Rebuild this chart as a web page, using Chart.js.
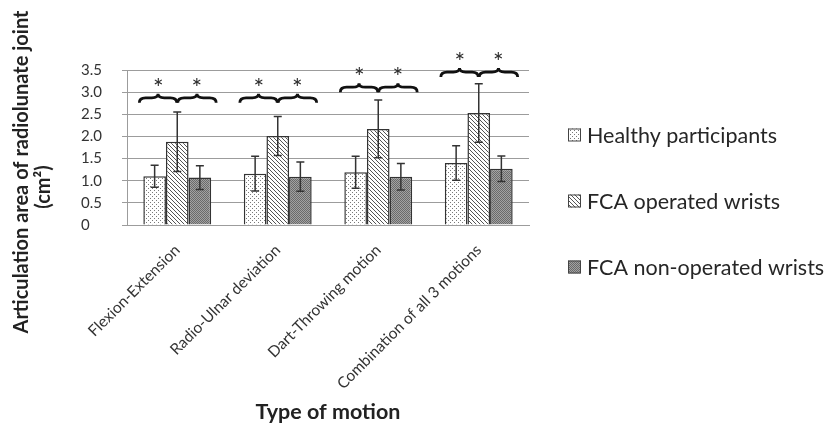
<!DOCTYPE html>
<html>
<head>
<meta charset="utf-8">
<script src="https://cdn.jsdelivr.net/npm/chart.js@4.4.1/dist/chart.umd.min.js"></script>
<style>
  html, body { margin: 0; padding: 0; background: #fff; }
</style>
</head>
<body>
<canvas id="canvasOne" width="827" height="425"></canvas>
<script>
// values (mean and SD, cm2)
var categories = ['Flexion-Extension', 'Radio-Ulnar deviation', 'Dart-Throwing motion', 'Combination of all 3 motions'];
var seriesNames = ['Healthy participants', 'FCA operated wrists', 'FCA non-operated wrists'];
var healthy = [1.10, 1.16, 1.19, 1.40];
var healthySD = [0.25, 0.39, 0.36, 0.39];
var operated = [1.88, 2.01, 2.17, 2.53];
var operatedSD = [0.67, 0.44, 0.65, 0.66];
var nonOperated = [1.07, 1.09, 1.09, 1.27];
var nonOperatedSD = [0.27, 0.33, 0.30, 0.29];
// height of the significance braces for each group
var braceLevels = [2.76, 2.76, 3.0, 3.34];
var yTicks = [0, 0.5, 1.0, 1.5, 2.0, 2.5, 3.0, 3.5];

var gridColor = '#9c9c9c';
var textColor = '#333333';
var fontName = 'Lato';

function makePattern(size, paint) {
    var c = document.createElement('canvas');
    c.width = size;
    c.height = size;
    var g = c.getContext('2d');
    paint(g);
    return g.createPattern(c, 'repeat');
}

var dotted = makePattern(4, function(g) {
    g.fillStyle = '#ffffff';
    g.fillRect(0, 0, 4, 4);
    g.fillStyle = '#7a7a7a';
    g.fillRect(0, 0, 1, 1);
    g.fillRect(2, 2, 1, 1);
});
var hatched = makePattern(4, function(g) {
    g.fillStyle = '#ffffff';
    g.fillRect(0, 0, 4, 4);
    g.fillStyle = '#555555';
    for (var i = 0; i < 4; i++) g.fillRect(i, i, 1, 1);
});
var darkDots = makePattern(2, function(g) {
    g.fillStyle = '#a2a2a2';
    g.fillRect(0, 0, 2, 2);
    g.fillStyle = '#6a6a6a';
    g.fillRect(0, 0, 1, 1);
    g.fillRect(1, 1, 1, 1);
});
var fills = [dotted, hatched, darkDots];
var errors = [healthySD, operatedSD, nonOperatedSD];

var extrasPlugin = {
    id: 'extras',
    afterDatasetsDraw: function(chart) {
        var ctx = chart.ctx;
        var y = chart.scales.y;
        ctx.save();
        // error bars
        ctx.strokeStyle = '#333333';
        ctx.lineWidth = 1.5;
        chart.data.datasets.forEach(function(ds, i) {
            var meta = chart.getDatasetMeta(i);
            meta.data.forEach(function(bar, j) {
                var v = ds.data[j];
                var top = y.getPixelForValue(v + errors[i][j]);
                var bot = y.getPixelForValue(v - errors[i][j]);
                ctx.beginPath();
                ctx.moveTo(bar.x, top);
                ctx.lineTo(bar.x, bot);
                ctx.moveTo(bar.x - 4, top);
                ctx.lineTo(bar.x + 4, top);
                ctx.moveTo(bar.x - 4, bot);
                ctx.lineTo(bar.x + 4, bot);
                ctx.stroke();
            });
        });
        // braces and asterisks
        var m0 = chart.getDatasetMeta(0).data;
        var m1 = chart.getDatasetMeta(1).data;
        var m2 = chart.getDatasetMeta(2).data;
        ctx.strokeStyle = '#111111';
        ctx.lineWidth = 2.8;
        ctx.fillStyle = '#2a2a2a';
        ctx.font = '25px ' + fontName;
        ctx.textAlign = 'center';
        ctx.textBaseline = 'alphabetic';
        braceLevels.forEach(function(level, j) {
            var yb = y.getPixelForValue(level);
            var a = m0[j].x - m0[j].width / 2 - 4;
            var b = m1[j].x;
            var c = m2[j].x + m2[j].width / 2 + 5;
            drawBrace(ctx, a, b - 0.5, yb, 9);
            drawBrace(ctx, b + 0.5, c, yb, 9);
            ctx.fillText('*', (a + b) / 2, yb - 6);
            ctx.fillText('*', (b + c) / 2, yb - 6);
        });
        ctx.restore();
    },
    afterDraw: function(chart) {
        var ctx = chart.ctx;
        ctx.save();
        // y axis title
        ctx.fillStyle = '#222222';
        ctx.font = 'bold 20px ' + fontName;
        ctx.textAlign = 'center';
        ctx.textBaseline = 'middle';
        ctx.translate(22, 172);
        ctx.rotate(-Math.PI / 2);
        ctx.fillText('Articulation area of radiolunate joint', 0, 0);
        ctx.restore();
        ctx.save();
        ctx.fillStyle = '#222222';
        ctx.font = 'bold 20px ' + fontName;
        ctx.textAlign = 'center';
        ctx.textBaseline = 'middle';
        ctx.translate(44, 187);
        ctx.rotate(-Math.PI / 2);
        ctx.fillText('(cm\u00B2)', 0, 0);
        ctx.restore();
        // legend
        ctx.save();
        ctx.font = '21.5px ' + fontName;
        ctx.textBaseline = 'middle';
        ctx.textAlign = 'left';
        seriesNames.forEach(function(name, i) {
            var cy = 135 + i * 66;
            ctx.fillStyle = fills[i];
            ctx.fillRect(568, cy - 6.5, 13, 13);
            ctx.strokeStyle = '#444444';
            ctx.lineWidth = 1;
            ctx.strokeRect(568.5, cy - 6, 12, 12);
            ctx.fillStyle = '#262626';
            ctx.fillText(name, 587, cy + 1);
        });
        ctx.restore();
    }
};

function drawBrace(ctx, x1, x2, yb, h) {
    var ym = yb - h * 0.55;
    var yt = yb - h;
    var xm = (x1 + x2) / 2;
    var q = Math.min(7, (x2 - x1) / 6);
    ctx.beginPath();
    ctx.moveTo(x1, yb);
    ctx.quadraticCurveTo(x1, ym, x1 + q, ym);
    ctx.lineTo(xm - q, ym);
    ctx.quadraticCurveTo(xm, ym, xm, yt);
    ctx.quadraticCurveTo(xm, ym, xm + q, ym);
    ctx.lineTo(x2 - q, ym);
    ctx.quadraticCurveTo(x2, ym, x2, yb);
    ctx.stroke();
}

var datasets = [healthy, operated, nonOperated].map(function(values, i) {
    return {
        label: seriesNames[i],
        data: values,
        backgroundColor: fills[i],
        borderColor: '#333333',
        borderWidth: 1.5,
        categoryPercentage: 0.675,
        barPercentage: 1.0
    };
});

var ctx = document.getElementById('canvasOne').getContext('2d');
var config = {
    type: 'bar',
    data: {
        labels: categories,
        datasets: datasets
    },
    options: {
        responsive: false,
        animation: false,
        layout: { padding: { left: 81, right: 298, top: 70, bottom: 0 } },
        plugins: {
            legend: { display: false },
            tooltip: { enabled: false }
        },
        scales: {
            x: {
                grid: { display: false, drawTicks: false },
                border: { display: true, color: gridColor },
                ticks: {
                    font: { family: fontName, size: 15.5 },
                    color: textColor,
                    minRotation: 45,
                    maxRotation: 45,
                    padding: 16
                },
                title: {
                    display: true,
                    text: 'Type of motion',
                    font: { family: fontName, size: 21.5, weight: 'bold' },
                    color: '#222222',
                    padding: { top: 0, bottom: 0 }
                },
                afterFit: function(s) { s.height = 200; }
            },
            y: {
                min: 0,
                max: 3.5,
                afterBuildTicks: function(s) {
                    s.ticks = yTicks.map(function(v) { return { value: v }; });
                },
                ticks: {
                    crossAlign: 'far',
                    font: { family: fontName, size: 15 },
                    color: textColor,
                    callback: function(v) { return v === 0 ? '0' : v.toFixed(1); }
                },
                grid: { color: gridColor, tickLength: 5 },
                border: { color: gridColor },
                afterFit: function(s) { s.width = 46; }
            }
        }
    },
    plugins: [extrasPlugin]
};

var chart = new Chart(ctx, config);
</script>
</body>
</html>
